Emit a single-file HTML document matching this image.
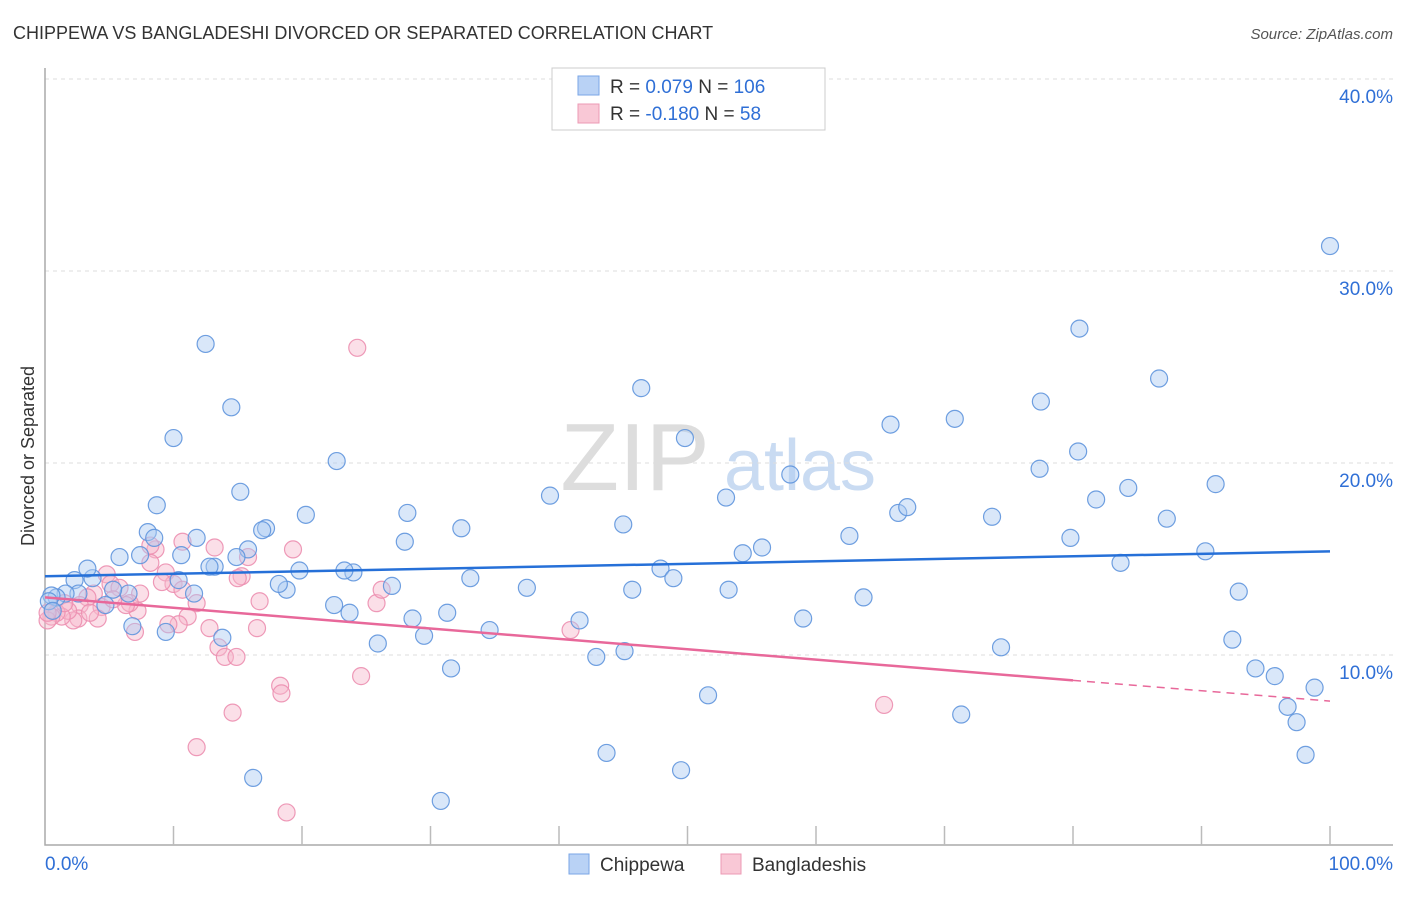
<!DOCTYPE html>
<html><head><meta charset="utf-8"><style>
body{margin:0;background:#fff;font-family:"Liberation Sans",sans-serif;}
svg text{font-family:"Liberation Sans",sans-serif;}
</style></head><body>
<svg id="chart" width="1406" height="892" xmlns="http://www.w3.org/2000/svg">
<text x="13" y="39" font-size="18" fill="#333">CHIPPEWA VS BANGLADESHI DIVORCED OR SEPARATED CORRELATION CHART</text>
<text x="1393" y="39" font-size="15" fill="#555" font-style="italic" text-anchor="end">Source: ZipAtlas.com</text>
<text transform="translate(34,456) rotate(-90)" font-size="18" fill="#333" text-anchor="middle">Divorced or Separated</text>
<g>
<text x="635" y="490" font-size="96" fill="#ddd" font-family="Liberation Serif" text-anchor="middle">ZIP</text>
<text x="800" y="490" font-size="72" fill="#c9dbf2" text-anchor="middle">atlas</text>
</g>
<g id="grid"></g><g id="axes"></g><g id="trends"></g><g id="pts"></g>
<g>
<rect x="552" y="68" width="273" height="62" fill="#fff" stroke="#ccc"/>
<rect x="578" y="76" width="21" height="19" fill="#b9d2f5" stroke="#7aa6e6"/>
<rect x="578" y="104" width="21" height="19" fill="#f9c8d6" stroke="#ec9ab4"/>
<text x="610" y="93" font-size="19" fill="#333">R = <tspan fill="#2f6fd6"> 0.079</tspan>   N = <tspan fill="#2f6fd6">106</tspan></text>
<text x="610" y="120" font-size="19" fill="#333">R = <tspan fill="#2f6fd6">-0.180</tspan>   N = <tspan fill="#2f6fd6">  58</tspan></text>
</g>
<g>
<rect x="569" y="854" width="20" height="20" fill="#b9d2f5" stroke="#7aa6e6"/>
<text x="600" y="871" font-size="19" fill="#333">Chippewa</text>
<rect x="721" y="854" width="20" height="20" fill="#f9c8d6" stroke="#ec9ab4"/>
<text x="752" y="871" font-size="19" fill="#333">Bangladeshis</text>
</g>
</svg>
<script>
const blueX=[100,80.5,86.7,46.4,77.5,70.8,65.8,49.8,80.4,77.4,58.0,84.3,91.1,39.3,53.0,81.8,66.4,67.1,73.7,87.3,45.0,62.6,79.8,55.8,54.3,90.3,83.7,47.9,48.9,45.7,53.2,63.7,92.9,59.0,92.4,74.4,94.2,95.7,98.8,96.7,97.4,98.1,71.3,51.6,49.5,43.7,45.1,42.9,41.6,37.5,33.1,32.4,34.6,31.6,31.3,30.8,29.5,28.6,28.2,28.0,27.0,25.9,23.7,24.0,23.3,22.5,22.7,20.3,19.8,18.8,18.2,17.2,16.9,15.8,14.9,15.2,14.5,16.2,13.8,13.2,12.8,11.8,10.6,12.5,10.0,8.7,8.0,8.5,7.4,5.8,10.4,11.6,9.4,6.8,6.5,5.3,4.7,3.7,3.3,2.3,2.6,1.6,0.9,0.5,0.3,0.6];
const blueY=[31.3,27.0,24.4,23.9,23.2,22.3,22.0,21.3,20.6,19.7,19.4,18.7,18.9,18.3,18.2,18.1,17.4,17.7,17.2,17.1,16.8,16.2,16.1,15.6,15.3,15.4,14.8,14.5,14.0,13.4,13.4,13.0,13.3,11.9,10.8,10.4,9.3,8.9,8.3,7.3,6.5,4.8,6.9,7.9,4.0,4.9,10.2,9.9,11.8,13.5,14.0,16.6,11.3,9.3,12.2,2.4,11.0,11.9,17.4,15.9,13.6,10.6,12.2,14.3,14.4,12.6,20.1,17.3,14.4,13.4,13.7,16.6,16.5,15.5,15.1,18.5,22.9,3.6,10.9,14.6,14.6,16.1,15.2,26.2,21.3,17.8,16.4,16.1,15.2,15.1,13.9,13.2,11.2,11.5,13.2,13.4,12.6,14.0,14.5,13.9,13.2,13.2,13.0,13.1,12.8,12.3];
const pinkX=[24.3,19.3,13.2,15.8,15.3,15.0,10.7,8.6,8.2,9.4,10.0,9.1,10.7,11.8,11.1,10.4,9.6,12.8,13.5,14.0,14.9,16.5,16.7,18.3,18.4,24.6,25.8,26.2,40.9,65.3,14.6,11.8,18.8,7.4,7.2,6.6,6.3,7.0,4.8,5.1,4.4,3.8,3.3,2.7,2.6,2.2,1.8,1.3,0.9,0.5,0.2,0.2,5.8,5.3,4.1,3.5,1.5,8.2];
const pinkY=[26.0,15.5,15.6,15.1,14.1,14.0,15.9,15.5,14.8,14.3,13.7,13.8,13.4,12.7,12.0,11.6,11.6,11.4,10.4,9.9,9.9,11.4,12.8,8.4,8.0,8.9,12.7,13.4,11.3,7.4,7.0,5.2,1.8,13.2,12.3,12.7,12.6,11.2,14.2,13.7,12.5,13.2,13.0,12.6,11.9,11.8,12.3,12.0,12.2,12.0,11.8,12.2,13.5,12.9,11.9,12.2,12.7,15.7];
const blueTrend=[14.1,15.4];
const pinkTrend=[13.0,7.6];
const yTicks=[10,20,30,40];
const yTickLabels=["10.0%","20.0%","30.0%","40.0%"];
const xTicks=[0,10,20,30,40,50,60,70,80,90,100];

const NS="http://www.w3.org/2000/svg";
const sx=v=>45+v*12.85;
const sy=v=>847-v*19.2;
function mk(tag,attrs,parent){const e=document.createElementNS(NS,tag);for(const k in attrs)e.setAttribute(k,attrs[k]);parent.appendChild(e);return e;}
const grid=document.getElementById('grid'),axes=document.getElementById('axes'),trends=document.getElementById('trends'),pts=document.getElementById('pts');
yTicks.forEach((t,i)=>{
  const l=mk('line',{x1:45,x2:1393,y1:sy(t),y2:sy(t),stroke:'#ddd','stroke-dasharray':'4,4'},grid);
  
  
  const tx=mk('text',{x:1393,y:sy(t)+24,'font-size':19,fill:'#2f6fd6','text-anchor':'end'},grid);
  tx.textContent=yTickLabels[i];
  
  
});
const ax=mk('path',{d:'M45 68 V845 H1393',fill:'none',stroke:'#aaa','stroke-width':1.5},axes);


xTicks.forEach(t=>{
  if(t===0)return;
  const l=mk('line',{x1:sx(t),x2:sx(t),y1:826,y2:845,stroke:'#bbb','stroke-width':1.5},axes);
  
  
});
const x0=mk('text',{x:45,y:870,'font-size':19,fill:'#2f6fd6'},axes);x0.textContent='0.0%';


const x1=mk('text',{x:1393,y:870,'font-size':19,fill:'#2f6fd6','text-anchor':'end'},axes);x1.textContent='100.0%';



function dots(X,Y,fill,stroke,name){X.forEach((x,i)=>{
  const c=mk('circle',{cx:sx(x),cy:sy(Y[i]),r:8.5,fill:fill,'fill-opacity':0.45,stroke:stroke,'stroke-width':1.2,'stroke-opacity':0.9},pts);
  
  
});}
dots(pinkX,pinkY,'#f7b9cd','#ec8fb0','bangladeshi-point');
dots(blueX,blueY,'#aac9f2','#5f95dd','chippewa-point');

const bt=mk('line',{x1:sx(0),y1:sy(blueTrend[0]),x2:sx(100),y2:sy(blueTrend[1]),stroke:'#2670d8','stroke-width':2.5},trends);


const pAt=x=>pinkTrend[0]+(pinkTrend[1]-pinkTrend[0])*x/100;
const pt=mk('line',{x1:sx(0),y1:sy(pAt(0)),x2:sx(80),y2:sy(pAt(80)),stroke:'#e8689a','stroke-width':2.5},trends);


const pd=mk('line',{x1:sx(80),y1:sy(pAt(80)),x2:sx(100),y2:sy(pAt(100)),stroke:'#e8689a','stroke-width':1.5,'stroke-dasharray':'8,6'},trends);


// trends drawn above points
document.getElementById('chart').appendChild(trends);
</script>
</body></html>
